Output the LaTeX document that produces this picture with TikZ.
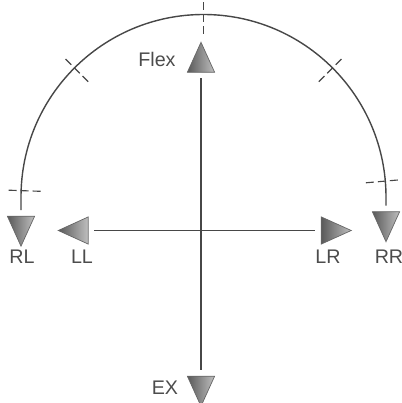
\documentclass[tikz,border=0pt]{standalone}
\usepackage{fontspec}
\setmainfont{Liberation Sans}
\usetikzlibrary{shapes.geometric}
\begin{document}
\begin{tikzpicture}[x=0.025cm, y=0.025cm, line width=1pt, draw=black!72,
  every node/.append style={font=\fontsize{14}{16}\selectfont, text=black!70},
  tip/.style={isosceles triangle, isosceles triangle stretches, inner sep=0pt, outer sep=0.15cm,
    minimum height=0.75cm, minimum width=0.68cm, draw=black!60, line width=0.5pt,
    left color=black!65, right color=black!25},
  tickmark/.style={dash pattern=on 0.2cm off 0.1cm, line width=0.8pt}]
  \useasboundingbox (0,0) rectangle (402,403);
  \node[tip, shape border rotate=90]  (flex) at (201,339.5) {};  \node (flexlab) at (157,344) {Flex};
  \node[tip, shape border rotate=270] (ex) at (201,18) {};       \node (exlab) at (165,15) {EX};
  \node[tip, shape border rotate=270] (rl) at (21,178) {};       \node (rllab) at (22,146) {RL};
  \node[tip, shape border rotate=270] (rr) at (386,182.5) {};    \node (rrlab) at (389,146) {RR};
  \node[tip, shape border rotate=180] (ll) at (79.5,172.5) {};   \node (lllab) at (82,146) {LL};
  \node[tip, shape border rotate=0]   (lr) at (330,172.5) {};    \node (lrlab) at (328,146) {LR};
  \coordinate (hub) at (203.5,206);
  \coordinate (arcl) at (21,206);
  \draw (flex) -- (ex);
  \draw (ll) -- (lr);
  \draw (rl) -- (arcl) arc[start angle=180, end angle=0, radius=182.5] -- (rr);
  \foreach \a in {5,45,90,135,178} \draw[tickmark] (hub) ++(\a:163) -- ++(\a:35);
\end{tikzpicture}
\end{document}
